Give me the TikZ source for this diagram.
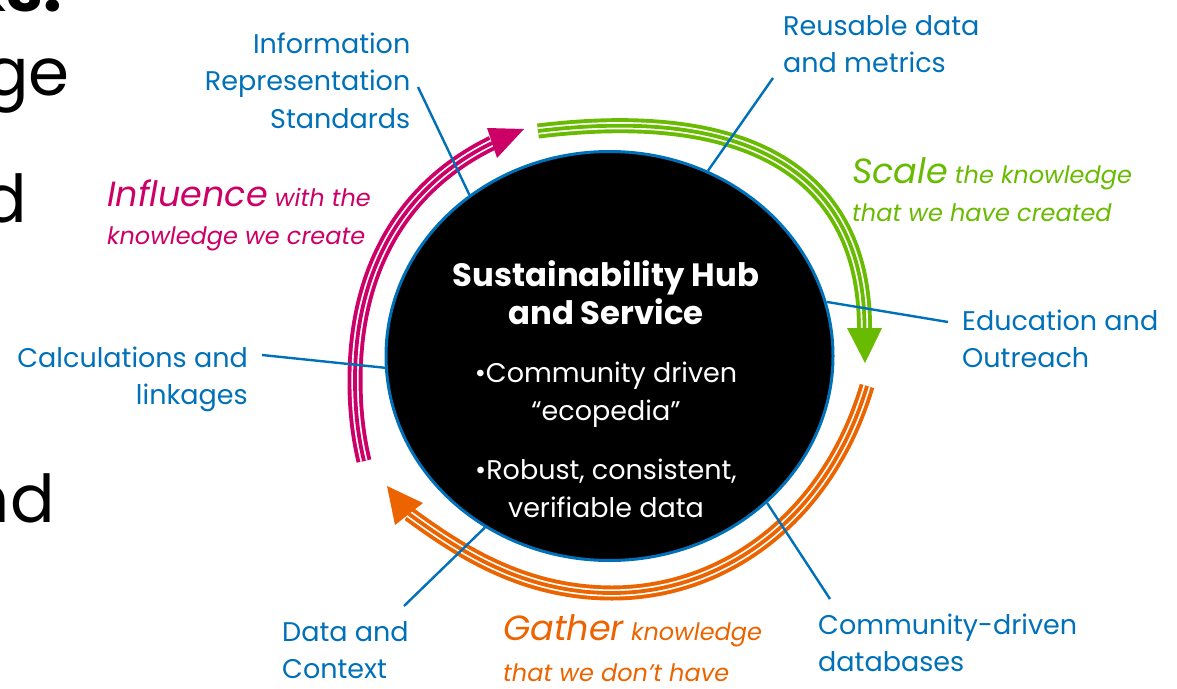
\documentclass[tikz,border=0pt]{standalone}
\usepackage{fontspec}
\setmainfont{Poppins}
\usetikzlibrary{shapes.geometric}
\definecolor{cblue}{RGB}{0,112,184}
\definecolor{cmag}{RGB}{204,0,102}
\definecolor{cgreen}{RGB}{104,187,0}
\definecolor{corange}{RGB}{235,100,0}
\newcommand\lns[2]{\begin{tabular}[t]{@{}#1@{}}#2\end{tabular}}
\newcommand\tripleband[2]{%
  \draw[#1, line width=15pt] #2;
  \draw[white, line width=7.2pt] #2;
  \draw[#1, line width=3.8pt] #2;}
\begin{document}
\begin{tikzpicture}[x=1pt, y=-1pt,
  lbl/.style={text=cblue, inner sep=0pt, font=\fontsize{27}{37.5}\selectfont},
  theme/.style={inner sep=0pt, font=\fontsize{24}{38}\selectfont\itshape},
  big/.style={inner sep=0pt, text=black, font=\fontsize{66}{70}\selectfont},
  lead/.style={draw=cblue, line width=2.4pt},
  hubstyle/.style={ellipse, draw=cblue, fill=black, line width=3pt,
    minimum width=447pt, minimum height=409pt, inner sep=0pt},
  hubtxt/.style={text=white, inner sep=0pt, font=\fontsize{27}{38}\selectfont}]
\useasboundingbox (0,0) rectangle (1177,688);
\clip (0,0) rectangle (1177,688);

% clipped slide text on the left
\node[big, anchor=base east, font=\fontsize{66}{70}\selectfont\bfseries] (t1) at (62,12) {ks:};
\node[big, anchor=base east] (t2) at (70,95) {ge};
\node[big, anchor=base east] (t3) at (27,222) {d};
\node[big, anchor=base east] (t4) at (55,522) {nd};

% hub
\node[hubstyle] (hub) at (609.5,356) {};
\node[hubtxt, anchor=base] (hubtext) at (606,286.7) {\lns{c}{%
  {\bfseries\fontsize{32.3}{38}\selectfont Sustainability Hub}\\
  {\bfseries\fontsize{32.3}{38}\selectfont and Service}\\[20pt]
  •Community driven\\
  “ecopedia”\\[21pt]
  •Robust, consistent,\\
  verifiable data}};

% cycle arrows
\tripleband{cmag}{(364,461) .. controls (357,432) and (355,405) .. (355,380) .. controls (355,270) and (402.2,187) .. (492,143)}
\fill[cmag] (487,128) -- (524,129) -- (497,158) -- cycle;
\tripleband{cgreen}{(538,131) .. controls (768,103) and (864.5,188) .. (864.5,328)}
\fill[cgreen] (847,328) -- (882,328) -- (865,363) -- cycle;
\tripleband{corange}{(867,386) .. controls (827,520) and (722,593) .. (612,593) .. controls (522,593) and (457.4,549.4) .. (409,514)}
\fill[corange] (387,486) -- (395,525) -- (423,503) -- cycle;

% theme labels
\node[theme, text=cmag, anchor=base west] (influence) at (107,206.7) {\lns{l}{%
  {\fontsize{35}{38}\selectfont Influence} with the\\knowledge we create}};
\node[theme, text=cgreen, anchor=base west] (scale) at (852,183.3) {\lns{l}{%
  {\fontsize{35}{38}\selectfont Scale} the knowledge\\that we have created}};
\node[theme, text=corange, anchor=base west, font=\fontsize{24}{41}\selectfont\itshape] (gather) at (503,640.7) {\lns{l}{%
  {\fontsize{35}{41}\selectfont Gather} knowledge\\that we don’t have}};

% outer labels
\node[lbl, anchor=base east] (info) at (410.5,53.3) {\lns{r}{Information\\Representation\\Standards}};
\node[lbl, anchor=base west] (reuse) at (783,35) {\lns{l}{Reusable data\\and metrics}};
\node[lbl, anchor=base west] (edu) at (962,330) {\lns{l}{Education and\\Outreach}};
\node[lbl, anchor=base west] (comm) at (818,634) {\lns{l}{Community-driven\\databases}};
\node[lbl, anchor=base west] (data) at (282,641) {\lns{l}{Data and\\Context}};
\node[lbl, anchor=base east] (calc) at (248,367) {\lns{r}{Calculations and\\linkages}};

% leader ends
\coordinate (infoA) at (418,87);
\coordinate (reuseA) at (773,78);
\coordinate (eduA) at (948,322);
\coordinate (commA) at (830,599);
\coordinate (dataA) at (404,606);
\coordinate (calcA) at (262,355);

\draw[lead] (infoA) -- (hub.131);
\draw[lead] (reuseA) -- (hub.62);
\draw[lead] (eduA) -- (hub.14);
\draw[lead] (commA) -- (hub.-43);
\draw[lead] (dataA) -- (hub.234);
\draw[lead] (calcA) -- (hub.183);
\end{tikzpicture}
\end{document}
